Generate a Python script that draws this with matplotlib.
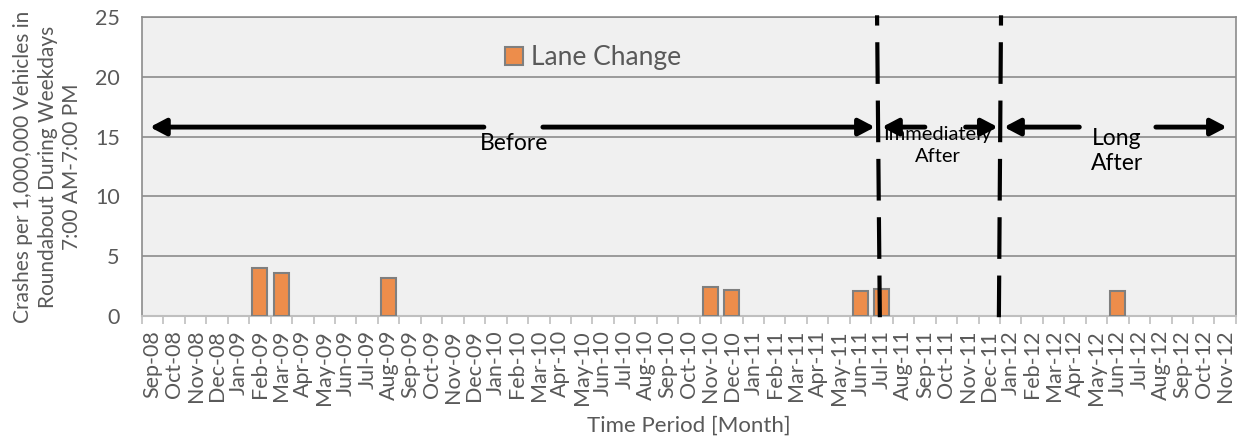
import matplotlib
matplotlib.use("Agg")
import matplotlib.pyplot as plt
import numpy as np

plt.rcParams['font.family'] = ['Lato', 'DejaVu Sans']

# monthly categories on the x axis
months = ["Sep-08", "Oct-08", "Nov-08", "Dec-08", "Jan-09", "Feb-09", "Mar-09",
          "Apr-09", "May-09", "Jun-09", "Jul-09", "Aug-09", "Sep-09", "Oct-09",
          "Nov-09", "Dec-09", "Jan-10", "Feb-10", "Mar-10", "Apr-10", "May-10",
          "Jun-10", "Jul-10", "Aug-10", "Sep-10", "Oct-10", "Nov-10", "Dec-10",
          "Jan-11", "Feb-11", "Mar-11", "Apr-11", "May-11", "Jun-11", "Jul-11",
          "Aug-11", "Sep-11", "Oct-11", "Nov-11", "Dec-11", "Jan-12", "Feb-12",
          "Mar-12", "Apr-12", "May-12", "Jun-12", "Jul-12", "Aug-12", "Sep-12",
          "Oct-12", "Nov-12"]

# months with lane change crashes (all other months are zero)
crash_months = ["Feb-09", "Mar-09", "Aug-09", "Nov-10", "Dec-10", "Jun-11", "Jul-11", "Jun-12"]
crash_rates = [4.0, 3.6, 3.2, 2.4, 2.2, 2.1, 2.3, 2.1]

gray_txt = "#595959"

fig = plt.figure(figsize=(12.38, 4.38), dpi=100)
ax = fig.add_axes([0.1147, 0.2785, 0.8836, 0.6825])
ax.set_facecolor("#F0F0F0")

x = np.array([months.index(m) for m in crash_months])
ax.bar(x, crash_rates, width=0.7, color="#ED8D4B", edgecolor="#7F7F7F",
       linewidth=1.5, label="Lane Change", zorder=3)

ax.set_xlim(-0.5, len(months) - 0.5)
ax.set_ylim(0, 25)
ax.set_yticks([0, 5, 10, 15, 20, 25])
ax.yaxis.grid(True, color="#8C8C8C", linewidth=1.2, zorder=0)
ax.set_axisbelow(True)
ax.tick_params(axis="y", length=0, labelsize=15.5, labelcolor=gray_txt, pad=16)

# labels at category centres, tick marks at boundaries
ax.set_xticks(np.arange(len(months)))
ax.set_xticklabels(months, rotation=90, fontsize=15.5, color=gray_txt)
ax.tick_params(axis="x", which="major", length=0, pad=10)
ax.set_xticks(np.arange(len(months) + 1) - 0.5, minor=True)
ax.tick_params(axis="x", which="minor", length=6, width=1.2, color="#BFBFBF")

for s in ["left", "top", "right"]:
    ax.spines[s].set_color("#8C8C8C")
    ax.spines[s].set_linewidth(1.2)
ax.spines["bottom"].set_color("#BFBFBF")
ax.spines["bottom"].set_linewidth(1.5)

ax.set_xlabel("Time Period [Month]", fontsize=16, color=gray_txt, labelpad=8)
ax.set_ylabel("Crashes per 1,000,000 Vehicles in\nRoundabout During Weekdays\n7:00 AM-7:00 PM",
              fontsize=15, color=gray_txt, labelpad=9, linespacing=1.3)

leg = ax.legend(loc="upper left", bbox_to_anchor=(0.31, 0.985), frameon=False,
                fontsize=19, handlelength=0.7, handleheight=0.7, handletextpad=0.3,
                labelcolor=gray_txt)

# phase boundaries
for xb, xt in [(33.9, 33.77), (39.45, 39.55)]:
    ax.plot([xb, xt], [-0.1, 25.15], color="black", lw=3,
            linestyle=(0, (10, 4)), clip_on=False, zorder=5)

# phase arrows
y_arr = 15.8
arrow = dict(arrowstyle="-|>,head_length=0.95,head_width=0.5", color="black",
             lw=3.5, shrinkA=0, shrinkB=0, mutation_scale=10)
for x0, x1 in [(15.44, -0.13), (18.19, 33.67), (36.0, 34.0), (37.9, 39.4),
               (43.2, 39.69), (46.77, 50.08)]:
    ax.annotate("", xy=(x1, y_arr), xytext=(x0, y_arr), arrowprops=arrow, zorder=6)

ax.text(16.84, 14.4, "Before", fontsize=16.5, ha="center", va="center", zorder=7)
ax.text(36.6, 14.25, "Immediately\nAfter", fontsize=14.5, ha="center", va="center",
        linespacing=1.35, zorder=7)
ax.text(44.95, 13.8, "Long\nAfter", fontsize=16.5, ha="center", va="center",
        linespacing=1.25, zorder=7)

fig.savefig("out.png", dpi=100)
